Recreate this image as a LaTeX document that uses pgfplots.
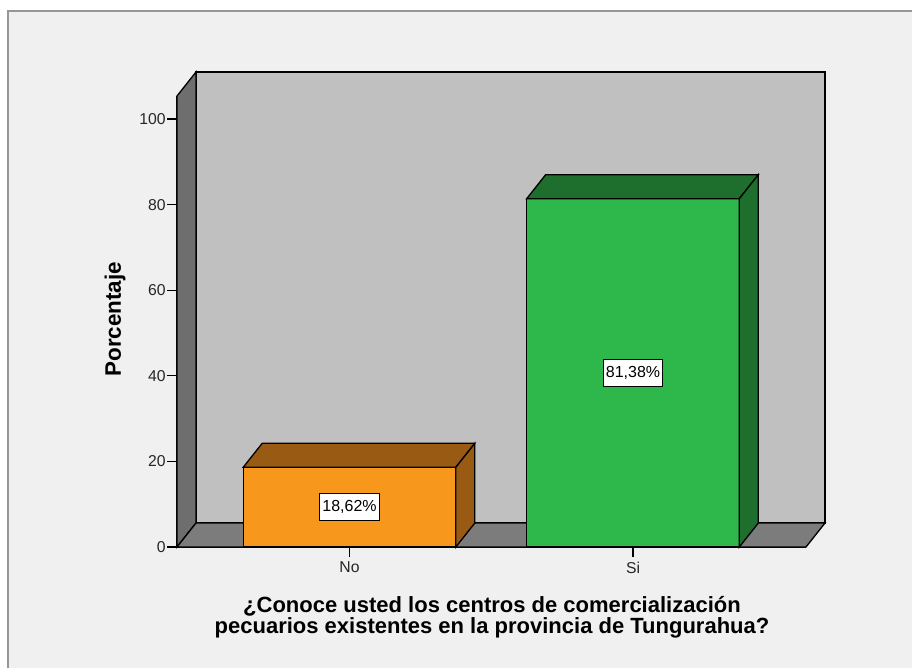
\documentclass[border=0pt]{standalone}
\usepackage{pgfplots}
\pgfplotsset{compat=1.18}
\usepackage{fontspec}
\setmainfont{Liberation Sans}
\definecolor{backwall}{RGB}{192,192,192}
\definecolor{leftwall}{RGB}{110,110,110}
\definecolor{floorc}{RGB}{124,124,124}
\definecolor{panel}{RGB}{240,240,240}
\definecolor{framec}{RGB}{150,150,150}
\definecolor{orangeF}{RGB}{247,152,29}
\definecolor{orangeD}{RGB}{153,91,20}
\definecolor{greenF}{RGB}{46,183,74}
\definecolor{greenD}{RGB}{30,110,45}
\begin{document}
\begin{tikzpicture}
\useasboundingbox (-132.75pt,-90.75pt) rectangle (551.25pt,410.25pt);
\fill[white] (-132.75pt,-90.75pt) rectangle (551.25pt,410.25pt);
\fill[panel] (-126.75pt,-90.75pt) rectangle (551.25pt,402pt);
\draw[framec, line width=1.5pt] (-126.75pt,-90.75pt) -- (-126.75pt,402pt) -- (551.25pt,402pt);
\begin{axis}[
  at={(0,0)}, anchor=south west,
  scale only axis, width=471.75pt, height=338.25pt,
  xmin=-0.6085, xmax=1.6102, ymin=0, ymax=105.37,
  clip=false,
  axis x line*=bottom, axis y line*=left,
  axis line style={black, line width=1pt},
  xtick={0,1}, xticklabels={No,Si},
  ytick={0,20,40,60,80,100},
  tick align=outside,
  major tick length=7.5pt,
  tick style={black, line width=0.9pt},
  /pgf/number format/assume math mode=true,
  ticklabel style={font=\fontsize{11.8}{13}\selectfont, text=black!85},
  yticklabel style={xshift=2.5pt},
  ylabel={\textbf{Porcentaje}},
  ylabel style={at={(axis description cs:-0.0986,0.505)}, anchor=center, font=\fontsize{16.8}{18}\selectfont},
  xlabel={\textbf{¿Conoce usted los centros de comercialización}\\\textbf{pecuarios existentes en la provincia de Tungurahua?}},
  xlabel style={at={(axis description cs:0.5008,-0.156)}, anchor=center, align=center, font=\fontsize{16.5}{16}\selectfont},
]
% back wall
\addplot[fill=backwall, draw=black, line width=1pt, mark=none] coordinates {(-0.5415,5.607) (1.6772,5.607) (1.6772,110.977) (-0.5415,110.977)} -- cycle;
% left wall
\addplot[fill=leftwall, draw=black, line width=1pt, mark=none] coordinates {(-0.6085,0) (-0.5415,5.607) (-0.5415,110.977) (-0.6085,105.37)} -- cycle;
% floor
\addplot[fill=floorc, draw=black, line width=1pt, mark=none] coordinates {(-0.6085,0) (1.6102,0) (1.6772,5.607) (-0.5415,5.607)} -- cycle;
% bar No
\addplot[ybar, bar width=0.75, fill=orangeF, draw=black, line width=1pt] coordinates {(0,18.62)};
\addplot[fill=orangeD, draw=black, line width=1pt, mark=none] coordinates {(-0.375,18.62) (-0.308,24.227) (0.442,24.227) (0.375,18.62)} -- cycle;
\addplot[fill=orangeD, draw=black, line width=1pt, mark=none] coordinates {(0.375,0) (0.442,5.607) (0.442,24.227) (0.375,18.62)} -- cycle;
% bar Si
\addplot[ybar, bar width=0.75, fill=greenF, draw=black, line width=1pt] coordinates {(1,81.38)};
\addplot[fill=greenD, draw=black, line width=1pt, mark=none] coordinates {(0.625,81.38) (0.692,86.987) (1.442,86.987) (1.375,81.38)} -- cycle;
\addplot[fill=greenD, draw=black, line width=1pt, mark=none] coordinates {(1.375,0) (1.442,5.607) (1.442,86.987) (1.375,81.38)} -- cycle;
% labels
\addplot[draw=none, mark=none, nodes near coords, point meta=explicit symbolic,
  nodes near coords style={anchor=center, fill=white, draw=black, line width=0.6pt, inner xsep=2pt, inner ysep=0pt, minimum height=20pt, font=\fontsize{12}{14}\selectfont, text=black}]
  coordinates {(0,9.31) [18,62\%] (1,40.69) [81,38\%]};
\end{axis}
\end{tikzpicture}
\end{document}
